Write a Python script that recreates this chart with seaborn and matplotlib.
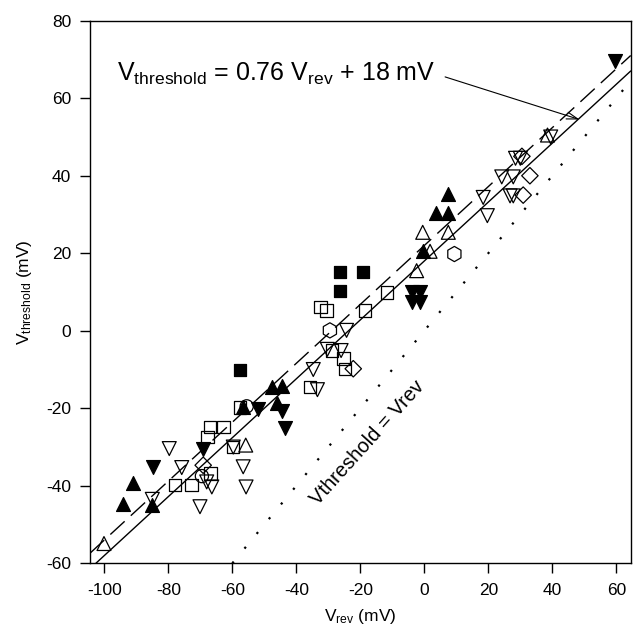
import numpy as np
import pandas as pd
import seaborn as sns
import matplotlib.pyplot as plt

# filled symbols
up_filled_x = [-94.1, -90.9, -85.2, -56.8, -47.7, -44.6, -46.1, -0.5, 3.7, 7.5, 7.5]
up_filled_y = [-44.6, -39.4, -45.0, -19.7, -14.5, -14.3, -18.6, 20.5, 30.3, 30.3, 35.3]
down_filled_x = [-84.7, -69.1, -43.5, -51.9, -44.6, -3.9, -1.3, -3.9, -1.3, 59.5]
down_filled_y = [-35.1, -30.4, -25.2, -20.1, -20.6, 9.9, 9.9, 7.4, 7.4, 69.5]
square_filled_x = [-57.6, -26.3, -19.3, -26.3]
square_filled_y = [-10.0, 15.1, 15.1, 10.2]

# open symbols
up_open_x = [-100.1, -55.8, -2.4, -0.5, 7.5, 1.8, 38.5]
up_open_y = [-54.9, -29.5, 15.5, 25.4, 25.4, 20.5, 50.5]
down_open_x = [-79.7, -75.8, -59.7, -56.6, -68.0, -66.4, -55.7, -70.1, -85.0,
               -34.7, -33.4, -24.3, -30.3, -26.0, 18.4, 19.7, 24.2, 27.8,
               26.8, 27.8, 28.5, 30.0, 39.5]
down_open_y = [-30.4, -35.3, -30.0, -35.1, -39.0, -40.3, -40.3, -45.4, -43.5,
               -10.0, -15.2, 0.1, -4.8, -5.1, 34.4, 29.7, 39.7, 39.7,
               34.8, 34.8, 44.5, 44.5, 50.0]
square_open_x = [-67.0, -62.8, -67.8, -59.7, -66.8, -77.9, -72.7, -57.6,
                 -35.7, -11.6, -18.5, -32.4, -30.5, -28.9, -25.3, -24.8]
square_open_y = [-24.8, -24.8, -27.4, -30.0, -36.8, -39.8, -39.8, -19.8,
                 -14.5, 9.9, 5.2, 6.1, 5.2, -5.1, -7.2, -9.8]
hex_open_x = [-29.5, 9.4]
hex_open_y = [0.1, 19.8]
diamond_open_x = [-69.1, -22.2, 30.9, 33.0, 30.5]
diamond_open_y = [-34.7, -9.8, 35.0, 40.0, 45.0]
circle_open_x = [-69.5, -55.5]
circle_open_y = [-37.5, -19.5]

# fitted line and identity line
fit_slope, fit_intercept = 0.76, 18.0
dash_slope, dash_intercept = 0.76, 22.0

sns.set_style('ticks')
plt.rcParams['font.family'] = ['Liberation Sans', 'DejaVu Sans']
plt.rcParams['mathtext.default'] = 'regular'
plt.rcParams['axes.unicode_minus'] = False
plt.rcParams['text.color'] = 'black'
plt.rcParams['axes.labelcolor'] = 'black'

fig = plt.figure(figsize=(6.34, 6.35), dpi=100)
ax = fig.add_axes([0.1418, 0.1129, 0.853, 0.8545])

groups = [
    (up_open_x, up_open_y, '^', False, 100),
    (down_open_x, down_open_y, 'v', False, 100),
    (square_open_x, square_open_y, 's', False, 80),
    (hex_open_x, hex_open_y, 'h', False, 120),
    (diamond_open_x, diamond_open_y, 'D', False, 70),
    (circle_open_x, circle_open_y, 'o', False, 90),
    (up_filled_x, up_filled_y, '^', True, 100),
    (down_filled_x, down_filled_y, 'v', True, 100),
    (square_filled_x, square_filled_y, 's', True, 80),
]
for gx, gy, m, filled, size in groups:
    sns.scatterplot(x=gx, y=gy, ax=ax, marker=m, s=size, color='black',
                    facecolors='black' if filled else 'none',
                    edgecolors='black', linewidth=0.9, zorder=3)

ax.axline((0, fit_intercept), slope=fit_slope, color='black', lw=1.0)
ax.axline((0, dash_intercept), slope=dash_slope, color='black', lw=1.0,
          dashes=(14, 6))
ax.axline((0, 0), slope=1, color='black', lw=1.6, linestyle=(0, (1, 7.6)))

ax.text(-96, 64.5, r'$V_{threshold}$ = 0.76 $V_{rev}$ + 18 mV',
        fontsize=18, va='baseline')
ax.annotate('', xy=(48.5, 54.5), xytext=(6.5, 65.5),
            arrowprops=dict(arrowstyle='->,head_length=0.8,head_width=0.25',
                            color='black', lw=0.8, shrinkA=0, shrinkB=0))
ax.text(-17.6, -29, 'Vthreshold = Vrev', rotation=48, rotation_mode='anchor',
        ha='center', va='center', fontsize=14.5)

ax.set_xlim(-104.5, 64.5)
ax.set_ylim(-60, 80)
ax.set_xticks(np.arange(-100, 61, 20))
ax.set_yticks(np.arange(-60, 81, 20))
ax.tick_params(axis='both', direction='out', length=7, width=1,
               color='black', labelsize=12.5, labelcolor='black')
ax.tick_params(axis='x', pad=7.5)
ax.tick_params(axis='y', pad=6.5)
for sp in ax.spines.values():
    sp.set_color('black')
    sp.set_linewidth(1.0)
ax.set_xlabel(r'$V_{rev}$ (mV)', fontsize=12.5, labelpad=6)
ax.set_ylabel(r'$V_{threshold}$ (mV)', fontsize=12.5, labelpad=9)

fig.savefig('out.png', dpi=100)
